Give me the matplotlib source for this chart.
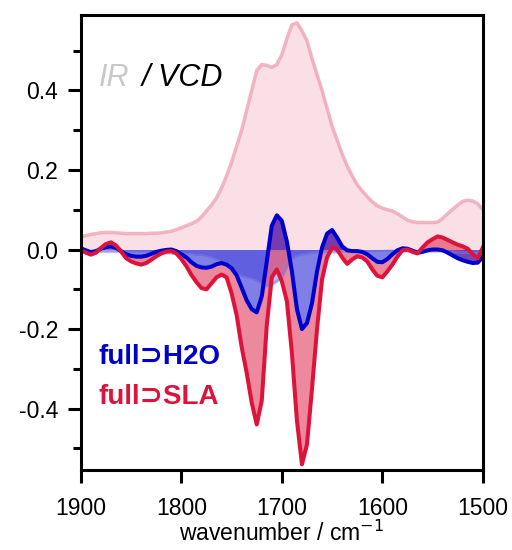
import numpy as np
import matplotlib; matplotlib.use("Agg")
import matplotlib.pyplot as plt

# shared wavenumber grid (cm-1), 1900 -> 1500 in steps of 5
wn = np.arange(1900, 1499, -5)

ir_sla = [0.033, 0.035, 0.038, 0.040, 0.042, 0.043, 0.043, 0.042, 0.041, 0.040,
          0.040, 0.040, 0.040, 0.040, 0.041, 0.041, 0.042, 0.044, 0.046, 0.050,
          0.055, 0.060, 0.065, 0.071, 0.082, 0.097, 0.112, 0.130, 0.155, 0.185,
          0.220, 0.260, 0.300, 0.350, 0.400, 0.450, 0.465, 0.463, 0.458, 0.465,
          0.490, 0.530, 0.565, 0.570, 0.550, 0.525, 0.480, 0.440, 0.400, 0.355,
          0.310, 0.275, 0.240, 0.210, 0.185, 0.163, 0.147, 0.133, 0.120, 0.110,
          0.104, 0.100, 0.097, 0.090, 0.082, 0.074, 0.070, 0.068, 0.068, 0.068,
          0.068, 0.069, 0.078, 0.090, 0.101, 0.112, 0.121, 0.124, 0.122, 0.115,
          0.100]

ir_h2o = [-0.004, -0.004, -0.004, -0.004, -0.005, -0.005, -0.005, -0.005, -0.005, -0.006,
          -0.006, -0.006, -0.006, -0.007, -0.007, -0.008, -0.008, -0.009, -0.009, -0.010,
          -0.010, -0.012, -0.013, -0.015, -0.015, -0.018, -0.022, -0.027, -0.033, -0.041,
          -0.050, -0.062, -0.068, -0.072, -0.075, -0.080, -0.088, -0.092, -0.088, -0.080,
          -0.070, -0.045, -0.025, -0.018, -0.014, -0.012, -0.010, -0.008, -0.007, -0.007,
          -0.006, -0.006, -0.005, -0.005, -0.005, -0.005, -0.005, -0.005, -0.005, -0.005,
          -0.005, -0.004, -0.004, -0.004, -0.004, -0.004, -0.004, -0.004, -0.004, -0.004,
          -0.004, -0.004, -0.004, -0.005, -0.005, -0.006, -0.007, -0.008, -0.010, -0.009,
          -0.006]

vcd_h2o = [0.003, -0.002, -0.007, -0.004, 0.002, 0.006, 0.008, 0.004, -0.004, -0.012,
           -0.016, -0.018, -0.018, -0.016, -0.011, -0.006, -0.003, -0.001, 0.000, -0.004,
           -0.012, -0.020, -0.032, -0.041, -0.045, -0.046, -0.043, -0.037, -0.034, -0.038,
           -0.047, -0.065, -0.096, -0.128, -0.150, -0.158, -0.118, -0.030, 0.060, 0.086,
           0.072, 0.020, -0.055, -0.150, -0.200, -0.185, -0.135, -0.055, 0.005, 0.040,
           0.049, 0.030, 0.008, -0.002, -0.004, -0.004, -0.006, -0.012, -0.022, -0.031,
           -0.032, -0.024, -0.012, -0.002, 0.003, 0.002, -0.003, -0.008, -0.006, -0.002,
           0.000, 0.000, -0.002, -0.008, -0.015, -0.022, -0.027, -0.031, -0.034, -0.033,
           -0.018]

vcd_sla = [-0.002, -0.008, -0.013, -0.008, 0.004, 0.014, 0.018, 0.010, -0.005, -0.022,
           -0.030, -0.035, -0.038, -0.034, -0.026, -0.017, -0.010, -0.005, -0.004, -0.010,
           -0.024, -0.042, -0.064, -0.082, -0.097, -0.100, -0.085, -0.070, -0.063, -0.070,
           -0.110, -0.165, -0.245, -0.310, -0.385, -0.440, -0.380, -0.190, -0.070, -0.050,
           -0.080, -0.130, -0.260, -0.430, -0.540, -0.490, -0.350, -0.200, -0.075, -0.020,
           0.005, 0.000, -0.020, -0.036, -0.025, -0.017, -0.020, -0.030, -0.050, -0.066,
           -0.070, -0.055, -0.038, -0.018, -0.002, 0.000, -0.006, -0.010, 0.005, 0.018,
           0.026, 0.033, 0.030, 0.024, 0.018, 0.012, 0.008, 0.002, -0.012, -0.022,
           0.005]

ir_sla, ir_h2o, vcd_h2o, vcd_sla = map(np.array, (ir_sla, ir_h2o, vcd_h2o, vcd_sla))

plt.rcParams["font.family"] = ["Liberation Sans", "DejaVu Sans"]
BLUE = "#0000cd"; RED = "#dc143c"; PINK = "#eea3b5"

fig = plt.figure(figsize=(5.12, 5.5), dpi=100)
ax = fig.add_axes([0.158, 0.145, 0.785, 0.828])

ax.fill_between(wn, ir_sla, 0, color="#f7c8d3", alpha=0.55, lw=0)
ax.plot(wn, ir_sla, color=PINK, lw=2.5, alpha=0.8, solid_joinstyle="round")
ax.fill_between(wn, ir_h2o, 0, color=BLUE, alpha=0.25, lw=0)
ax.plot(wn, ir_h2o, color="#8080e0", lw=2.3, alpha=0.5, solid_joinstyle="round")
ax.fill_between(wn, vcd_sla, vcd_h2o, color=RED, alpha=0.5, lw=0)
ax.fill_between(wn, vcd_h2o, 0, color=BLUE, alpha=0.5, lw=0)
ax.plot(wn, vcd_h2o, color=BLUE, lw=2.9, solid_joinstyle="round")
ax.plot(wn, vcd_sla, color=RED, lw=2.9, solid_joinstyle="round")

ax.set_xlim(1900, 1500)
ax.set_ylim(-0.555, 0.59)
ax.set_xticks([1900, 1800, 1700, 1600, 1500])
ax.set_yticks([-0.4, -0.2, 0.0, 0.2, 0.4])
ax.set_yticks(np.arange(-0.5, 0.55, 0.1), minor=True)
ax.set_yticklabels(["-0.4", "-0.2", "0.0", "0.2", "0.4"])
ax.tick_params(which="major", length=9.5, width=2.2, labelsize=16.5, direction="out", pad=7)
ax.tick_params(axis="x", which="major", pad=10)
ax.tick_params(which="minor", length=5.5, width=2.2)
for s in ax.spines.values():
    s.set_linewidth(2.2)
ax.set_xlabel("wavenumber / cm$^{-1}$", fontsize=16.5, labelpad=0)

ax.text(0.045, 0.862, "IR", transform=ax.transAxes, fontsize=22, style="italic",
        color="#c8c8c8", va="center")
ax.text(0.152, 0.862, "/ VCD", transform=ax.transAxes, fontsize=22, style="italic",
        color="black", va="center")
ax.text(0.045, 0.248, "full\u2283H2O", transform=ax.transAxes, fontsize=20,
        fontweight="bold", color=BLUE, va="center")
ax.text(0.045, 0.16, "full\u2283SLA", transform=ax.transAxes, fontsize=20,
        fontweight="bold", color=RED, va="center")

fig.savefig("out.png", dpi=100)
